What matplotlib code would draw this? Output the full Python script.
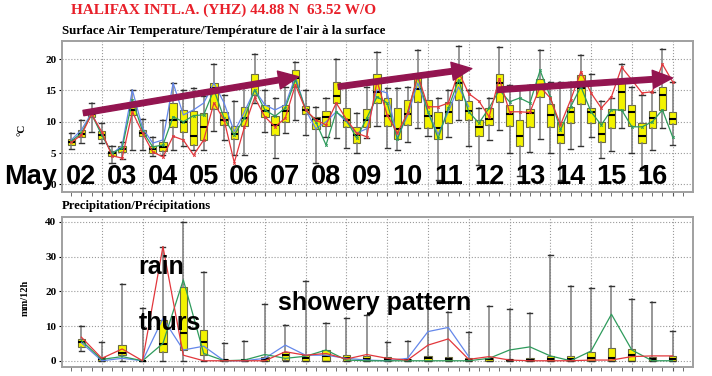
import matplotlib
matplotlib.use('Agg')
from matplotlib import pyplot as plt

# ---- temperature, 4 per day (60 steps) ----
t_lo = [5.6, 6.6, 8.4, 6.6, 3.5, 4.0, 5.5, 5.5, 4.5, 4.7,
        5.5, 6.1, 5.5, 5.5, 8.5, 7.1, 4.7, 4.7, 13.0, 8.4,
        4.2, 8.2, 10.3, 7.9, 3.4, 7.6, 7.4, 5.8, 5.0, 7.4,
        9.3, 5.8, 5.5, 6.8, 9.0, 7.7, 0.7, 7.6, 10.3, 6.1,
        3.1, 7.1, 8.7, 5.0, 1.3, 5.2, 7.2, 5.0, 0.7, 5.6,
        6.1, 7.6, 4.2, 5.3, 9.0, 5.0, 2.3, 5.5, 9.0, 6.3]
t_q1 = [6.3, 7.6, 10.7, 7.3, 4.6, 5.2, 11.1, 7.7, 5.1, 5.3,
        9.2, 8.3, 6.3, 7.1, 12.0, 9.5, 7.2, 9.3, 14.3, 10.8,
        7.9, 10.0, 15.6, 11.3, 8.8, 9.3, 13.0, 9.1, 6.6, 9.2,
        13.0, 9.3, 7.2, 9.5, 13.2, 9.0, 7.2, 9.8, 13.5, 10.3,
        7.7, 9.5, 13.2, 9.3, 6.1, 9.2, 13.9, 9.1, 6.6, 9.8,
        12.9, 9.8, 6.8, 9.0, 11.9, 9.3, 6.6, 9.0, 11.9, 9.7]
t_med = [6.8, 8.1, 11.2, 7.9, 5.0, 5.7, 11.9, 8.2, 5.7, 5.9,
         10.3, 10.0, 7.8, 9.1, 15.4, 10.3, 8.1, 10.6, 16.2, 11.8,
         9.5, 11.8, 17.0, 11.9, 10.4, 10.7, 14.1, 10.3, 7.9, 10.3,
         14.8, 10.9, 8.8, 11.3, 15.2, 11.0, 9.0, 11.6, 16.2, 11.7,
         9.2, 10.4, 16.2, 11.3, 7.7, 11.4, 15.9, 11.1, 7.9, 11.6,
         15.4, 11.5, 8.1, 11.1, 14.8, 11.6, 7.7, 10.6, 14.3, 10.5]
t_q3 = [7.3, 8.7, 11.6, 8.6, 5.4, 6.2, 12.7, 8.7, 6.2, 6.8,
        13.0, 11.9, 11.8, 11.4, 16.2, 11.6, 9.3, 12.4, 17.7, 12.7,
        10.9, 12.7, 18.2, 12.5, 10.8, 11.8, 16.3, 12.2, 9.2, 12.0,
        17.7, 13.8, 12.2, 13.5, 17.7, 13.5, 11.5, 13.1, 17.5, 13.3,
        10.3, 12.2, 17.7, 12.7, 10.3, 12.0, 16.8, 12.9, 10.0, 12.4,
        17.5, 12.2, 9.9, 12.0, 16.2, 12.7, 9.8, 11.8, 15.6, 11.5]
t_hi = [8.2, 10.3, 13.0, 9.8, 6.1, 6.8, 15.1, 10.4, 7.6, 10.3,
        16.2, 15.1, 15.4, 14.1, 19.3, 14.2, 13.4, 15.6, 20.8, 15.1,
        13.8, 15.6, 19.5, 15.1, 12.4, 13.8, 20.1, 15.5, 11.4, 15.6,
        21.2, 15.4, 15.4, 15.6, 21.5, 17.7, 13.8, 15.1, 22.1, 15.1,
        12.2, 13.8, 21.9, 15.9, 15.6, 15.9, 21.5, 16.4, 16.4, 16.4,
        20.7, 17.7, 13.4, 13.8, 19.3, 15.5, 14.3, 14.8, 21.7, 16.4]
t_blue = [7.1, 8.7, 11.4, 8.0, 4.9, 6.2, 15.1, 9.0, 6.6, 7.1,
          16.2, 11.1, 11.9, 13.0, 16.2, 13.0, 8.4, 11.6, 15.1, 12.7,
          11.9, 12.7, 17.2, 11.9, 8.9, 10.0, 11.6, 10.0, 8.2, 8.9,
          15.1, 14.6, 7.5, 11.0, 16.2, 11.6, 8.0, 11.6, 15.6, 12.4]
t_green = [6.9, 8.2, 11.2, 7.9, 5.0, 5.8, 13.5, 8.5, 6.0, 6.3,
           10.8, 10.0, 11.0, 11.1, 15.1, 10.6, 7.9, 10.6, 15.1, 11.9,
           10.9, 12.2, 16.7, 12.0, 10.0, 6.3, 11.6, 10.3, 7.4, 10.6,
           14.0, 13.0, 7.2, 11.5, 17.2, 11.6, 7.4, 12.2, 16.7, 11.6,
           9.8, 12.2, 15.1, 13.2, 13.8, 13.0, 18.2, 14.0, 8.7, 12.4,
           15.6, 11.6, 9.5, 11.9, 11.9, 9.2, 9.2, 10.0, 11.9, 7.6]
t_red = [6.7, 7.9, 11.2, 8.4, 4.6, 4.2, 11.6, 8.2, 5.2, 4.4,
         7.7, 7.1, 4.7, 7.1, 13.0, 10.3, 3.5, 9.2, 13.9, 10.8,
         9.2, 10.6, 15.9, 11.9, 10.3, 9.5, 13.0, 10.4, 8.2, 7.6,
         16.5, 11.1, 8.2, 11.4, 17.5, 12.4, 12.4, 13.0, 18.0, 14.5,
         13.3, 10.8, 16.9, 11.6, 11.6, 11.5, 15.6, 13.8, 9.5, 13.5,
         18.0, 14.6, 12.2, 14.0, 18.7, 16.7, 14.6, 14.8, 19.2, 16.4]

# ---- precipitation, 2 per day (30 steps) ----
p_lo = [2.8] + [0] * 29
p_q1 = [4.0, 0, 1.6, 0, 2.4, 3.1, 1.6, 0, 0, 0,
        0.2, 0, 0, 0, 0, 0, 0, 0, 0, 0,
        0, 0, 0, 0, 0, 0, 0, 0, 0, 0]
p_med = [5.5, 0.5, 2.1, 0, 4.7, 8.0, 5.5, 0.2, 0.1, 0.5,
         1.6, 0.9, 1.4, 0.9, 0.6, 0.5, 0.2, 0.7, 0.5, 0.3,
         0.5, 0.2, 0.3, 0.6, 0.6, 0.8, 0.8, 1.6, 0.5, 0.6]
p_q3 = [6.4, 1.0, 4.5, 0, 11.7, 21.2, 9.0, 0.5, 0.2, 1.2,
        2.6, 1.6, 3.1, 1.6, 1.4, 1.0, 0.4, 1.3, 1.2, 0.7,
        0.9, 0.5, 0.7, 1.4, 1.4, 2.4, 3.6, 3.3, 1.2, 1.4]
p_hi = [10.0, 5.5, 22.1, 15.3, 32.9, 40.1, 25.7, 5.0, 5.7, 16.3,
        10.3, 23.1, 11.0, 12.2, 13.2, 5.5, 5.8, 17.0, 14.1, 8.4,
        15.8, 14.9, 13.7, 30.5, 21.5, 20.9, 21.5, 17.7, 16.8, 8.7]
p_blue = [5.2, 0, 0.7, 0, 12.2, 3.1, 4.2, 0, 0, 0.7,
          4.5, 1.6, 1.6, 0.7, 0.2, 0, 0.7, 8.4, 9.6, 1.2]
p_green = [5.8, 0.4, 1.2, 0, 5.0, 23.3, 2.1, 0, 0.2, 1.8,
           0.7, 1.3, 3.1, 0.2, 0, 0, 0, 0, 0, 0,
           0.7, 3.1, 4.0, 1.4, 0, 2.8, 13.4, 3.1, 0, 0]
p_red = [6.8, 0.7, 3.4, 0, 32.9, 1.6, 0, 0, 0, 0,
         2.6, 1.6, 2.1, 0.5, 1.8, 0.7, 0.2, 4.5, 6.3, 0.4,
         1.2, 0.2, 0, 0, 0, 0.2, 0.2, 1.2, 1.4, 1.4]

day_labels = ['02', '03', '04', '05', '06', '07', '08', '09',
              '10', '11', '12', '13', '14', '15', '16']

# trend arrows drawn over the temperature panel (start, tip)
arrows = [((1.2, 11.4), (22.3, 17.2)),
          ((26.2, 15.6), (39.3, 18.5)),
          ((41.8, 15.1), (59.0, 17.0))]

BLUE = '#6487ea'
GREEN = '#2e9b5c'
RED = '#e2373c'
ARROW = '#931550'
SERIF = 'Liberation Serif'
SANS = 'Liberation Sans'

t_pos = list(range(len(t_med)))
p_pos = [1 + 2 * j for j in range(len(p_med))]


def draw_boxes(ax, pos, lo, q1, med, q3, hi):
    stats = [dict(whislo=a, q1=b, med=c, q3=d, whishi=e)
             for a, b, c, d, e in zip(lo, q1, med, q3, hi)]
    ax.bxp(stats, positions=pos, widths=0.72, showfliers=False,
           patch_artist=True, manage_ticks=False, capwidths=0.5,
           boxprops=dict(facecolor='#f3f300', edgecolor='#6b6b40', linewidth=0.8),
           medianprops=dict(color='black', linewidth=1.5),
           whiskerprops=dict(color='#7a7a7a', linewidth=1.1),
           capprops=dict(color='#333333', linewidth=1.0))


def style_axes(ax, yticks):
    ax.set_xlim(-0.9, 61.0)
    ax.set_xticks(range(3, 60, 4))
    ax.set_xticks(range(0, 61), minor=True)
    ax.tick_params(axis='x', which='both', length=3, color='#555555',
                   labelbottom=False)
    ax.set_yticks(yticks)
    ax.tick_params(axis='y', length=2, pad=2, labelsize=8)
    for lab in ax.get_yticklabels():
        lab.set_family(SERIF)
        lab.set_fontweight('bold')
    ax.grid(True, which='major', linestyle=':', color='#9a9a9a', linewidth=0.8)
    ax.set_axisbelow(True)
    for s in ax.spines.values():
        s.set_color('#a0a0a0')
        s.set_linewidth(1.4)


fig = plt.figure(figsize=(7.12, 3.76), dpi=100)
ax1 = fig.add_axes([0.0871, 0.4894, 0.8862, 0.4016])
ax2 = fig.add_axes([0.0871, 0.0239, 0.8862, 0.399])

# temperature panel
draw_boxes(ax1, t_pos, t_lo, t_q1, t_med, t_q3, t_hi)
ax1.plot(t_pos[:len(t_blue)], t_blue, color=BLUE, lw=0.9, zorder=4)
ax1.plot(t_pos, t_green, color=GREEN, lw=0.9, marker='x', ms=1.8, mew=0.7, zorder=4)
ax1.plot(t_pos, t_red, color=RED, lw=0.9, marker='x', ms=1.8, mew=0.7, zorder=4)
ax1.set_ylim(-1.2, 22.9)
style_axes(ax1, [0, 5, 10, 15, 20])

for start, tip in arrows:
    ax1.annotate('', xy=tip, xytext=start, zorder=6,
                 arrowprops=dict(arrowstyle='simple,head_length=1.1,head_width=1.0,tail_width=0.3',
                                 color=ARROW, mutation_scale=13, shrinkA=0, shrinkB=0))

ax1.text(-4.0, 0, 'May', ha='center', va='baseline', fontsize=19.5,
         family=SANS, fontweight='bold', zorder=7)
for k, lab in enumerate(day_labels):
    ax1.text(1 + 4 * k, 0, lab, ha='center', va='baseline', fontsize=19.5,
             family=SANS, fontweight='bold', zorder=7)

# precipitation panel
draw_boxes(ax2, p_pos, p_lo, p_q1, p_med, p_q3, p_hi)
ax2.plot(p_pos[:len(p_blue)], p_blue, color=BLUE, lw=0.9, zorder=4)
ax2.plot(p_pos, p_green, color=GREEN, lw=0.9, zorder=4)
ax2.plot(p_pos, p_red, color=RED, lw=0.9, zorder=4)
ax2.set_ylim(-1.8, 41.4)
style_axes(ax2, [0, 10, 20, 30, 40])

ax2.text(6.6, 27.0, 'rain', ha='left', va='center', fontsize=18,
         family=SANS, fontweight='bold', zorder=7)
ax2.text(6.6, 10.9, 'thurs', ha='left', va='center', fontsize=18,
         family=SANS, fontweight='bold', zorder=7)
ax2.text(20.3, 16.6, 'showery pattern', ha='left', va='center', fontsize=18,
         family=SANS, fontweight='bold', zorder=7)

# titles and axis labels
fig.text(0.3146, 0.973, 'HALIFAX INTL.A. (YHZ) 44.88 N  63.52 W/O', ha='center',
         va='center', color='#e8202a', fontsize=11, family=SERIF, fontweight='bold')
fig.text(0.0871, 0.918, "Surface Air Temperature/Température de l'air à la surface",
         ha='left', va='center', fontsize=9.4, family=SERIF, fontweight='bold')
fig.text(0.0871, 0.452, 'Precipitation/Précipitations', ha='left', va='center',
         fontsize=9.2, family=SERIF, fontweight='bold')
fig.text(0.031, 0.654, '°C', rotation=90, ha='center', va='center',
         fontsize=8, family=SERIF, fontweight='bold')
fig.text(0.035, 0.207, 'mm/12h', rotation=90, ha='center', va='center',
         fontsize=7.5, family=SERIF, fontweight='bold')

fig.savefig('out.png', dpi=100)
